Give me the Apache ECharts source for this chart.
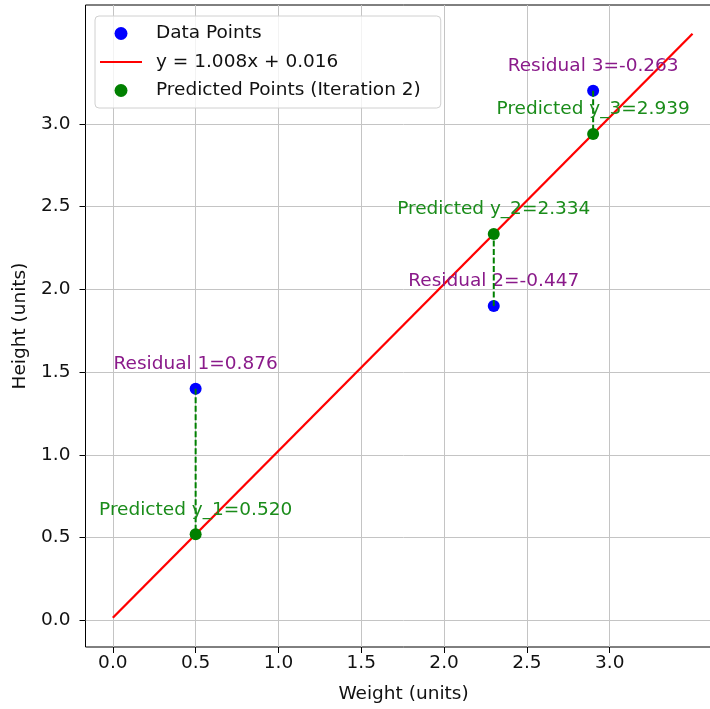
<!DOCTYPE html>
<html>
<head>
<meta charset="utf-8">
<script src="https://cdn.jsdelivr.net/npm/echarts@6/dist/echarts.min.js"></script>
<style>
  html, body { margin: 0; padding: 0; background: #fff; overflow: hidden; width: 710px; height: 709px; }
  #chart { width: 730px; height: 709px; }
</style>
</head>
<body>
<div id="chart"></div>
<script>
// Observed weight/height samples
const weights = [0.5, 2.3, 2.9];
const heights = [1.4, 1.9, 3.2];

// Fitted values after the second iteration
const predicted = [0.520, 2.334, 2.939];
const residuals = [0.876, -0.447, -0.263];

// Regression line y = 1.008x + 0.016, drawn between its end points
const slope = 1.008;
const intercept = 0.016;
const fitX = [0, 3.5];
const fitY = [0.016, 3.544];

// Tick labels on both axes
const ticks = [0.0, 0.5, 1.0, 1.5, 2.0, 2.5, 3.0];

const FONT = 'DejaVu Sans';
const FS = 18.5;
const lineName = 'y = ' + slope.toFixed(3) + 'x + ' + intercept.toFixed(3);

const series = [];

// fitted line
series.push({
  name: lineName,
  type: 'line',
  data: fitX.map((x, i) => [x, fitY[i]]),
  symbol: 'none',
  lineStyle: { color: '#ff0000', width: 2.3 },
  itemStyle: { color: '#ff0000' },
  z: 3,
  silent: true
});

// dashed connectors between each observation and its prediction
weights.forEach((x, i) => {
  series.push({
    type: 'line',
    data: [[x, heights[i]], [x, predicted[i]]],
    symbol: 'none',
    lineStyle: { color: '#008000', width: 2, type: [6, 2.5] },
    z: 5,
    silent: true
  });
});

// observed points, labelled with residuals
series.push({
  name: 'Data Points',
  type: 'scatter',
  data: weights.map((x, i) => [x, heights[i]]),
  symbolSize: 12,
  itemStyle: { color: '#0000ff', opacity: 1 },
  z: 4,
  label: {
    show: true,
    position: 'top',
    distance: 9,
    color: '#8a1a8a',
    fontFamily: FONT,
    fontSize: FS,
    formatter: p => 'Residual ' + (p.dataIndex + 1) + '=' + residuals[p.dataIndex].toFixed(3)
  }
});

// predicted points, labelled with their values
series.push({
  name: 'Predicted Points (Iteration 2)',
  type: 'scatter',
  data: weights.map((x, i) => [x, predicted[i]]),
  symbolSize: 12,
  itemStyle: { color: '#008000', opacity: 1 },
  z: 6,
  label: {
    show: true,
    position: 'top',
    distance: 9,
    color: '#1a8c1a',
    fontFamily: FONT,
    fontSize: FS,
    formatter: p => 'Predicted y_' + (p.dataIndex + 1) + '=' + predicted[p.dataIndex].toFixed(3)
  }
});

const axisCommon = {
  type: 'value',
  nameLocation: 'middle',
  nameTextStyle: { fontFamily: FONT, fontSize: FS, color: '#111' },
  axisLine: { show: false, onZero: false },
  axisTick: {
    show: true, inside: false, length: 6,
    lineStyle: { color: '#000', width: 1 },
    customValues: ticks
  },
  axisLabel: {
    show: true, fontFamily: FONT, fontSize: FS, color: '#111',
    customValues: ticks,
    formatter: v => v.toFixed(1)
  },
  splitLine: { show: true, lineStyle: { color: '#c4c4c4', width: 1 } }
};

const option = {
  animation: false,
  backgroundColor: '#fff',
  grid: {
    left: 85.5, top: 5, width: 636, height: 642,
    show: true, borderColor: '#000', borderWidth: 1, backgroundColor: 'transparent',
    containLabel: false,
    outerBoundsMode: 'none'
  },
  xAxis: Object.assign({}, axisCommon, {
    min: -0.165, max: 3.675,
    name: 'Weight (units)', nameGap: 38,
    axisLabel: Object.assign({}, axisCommon.axisLabel, { margin: 7 })
  }),
  yAxis: Object.assign({}, axisCommon, {
    min: -0.161, max: 3.718,
    name: 'Height (units)', nameGap: 55,
    axisLabel: Object.assign({}, axisCommon.axisLabel, { margin: 15 })
  }),
  legend: {
    left: 95, top: 16,
    orient: 'vertical',
    data: [
      { name: 'Data Points', icon: 'circle' },
      { name: lineName, icon: 'path://M0,0H42V2H0Z' },
      { name: 'Predicted Points (Iteration 2)', icon: 'circle' }
    ],
    itemWidth: 42, itemHeight: 13, itemGap: 9.5,
    padding: [8, 20, 8, 5],
    backgroundColor: 'rgba(255,255,255,0.8)',
    borderColor: '#d0d0d0', borderWidth: 1, borderRadius: 4,
    textStyle: { fontFamily: FONT, fontSize: FS, color: '#111', lineHeight: 19, padding: [0, 0, 0, 9] }
  },
  series: series
};

const chart = echarts.init(document.getElementById('chart'), null, { renderer: 'canvas' });
chart.setOption(option);
</script>
</body>
</html>
